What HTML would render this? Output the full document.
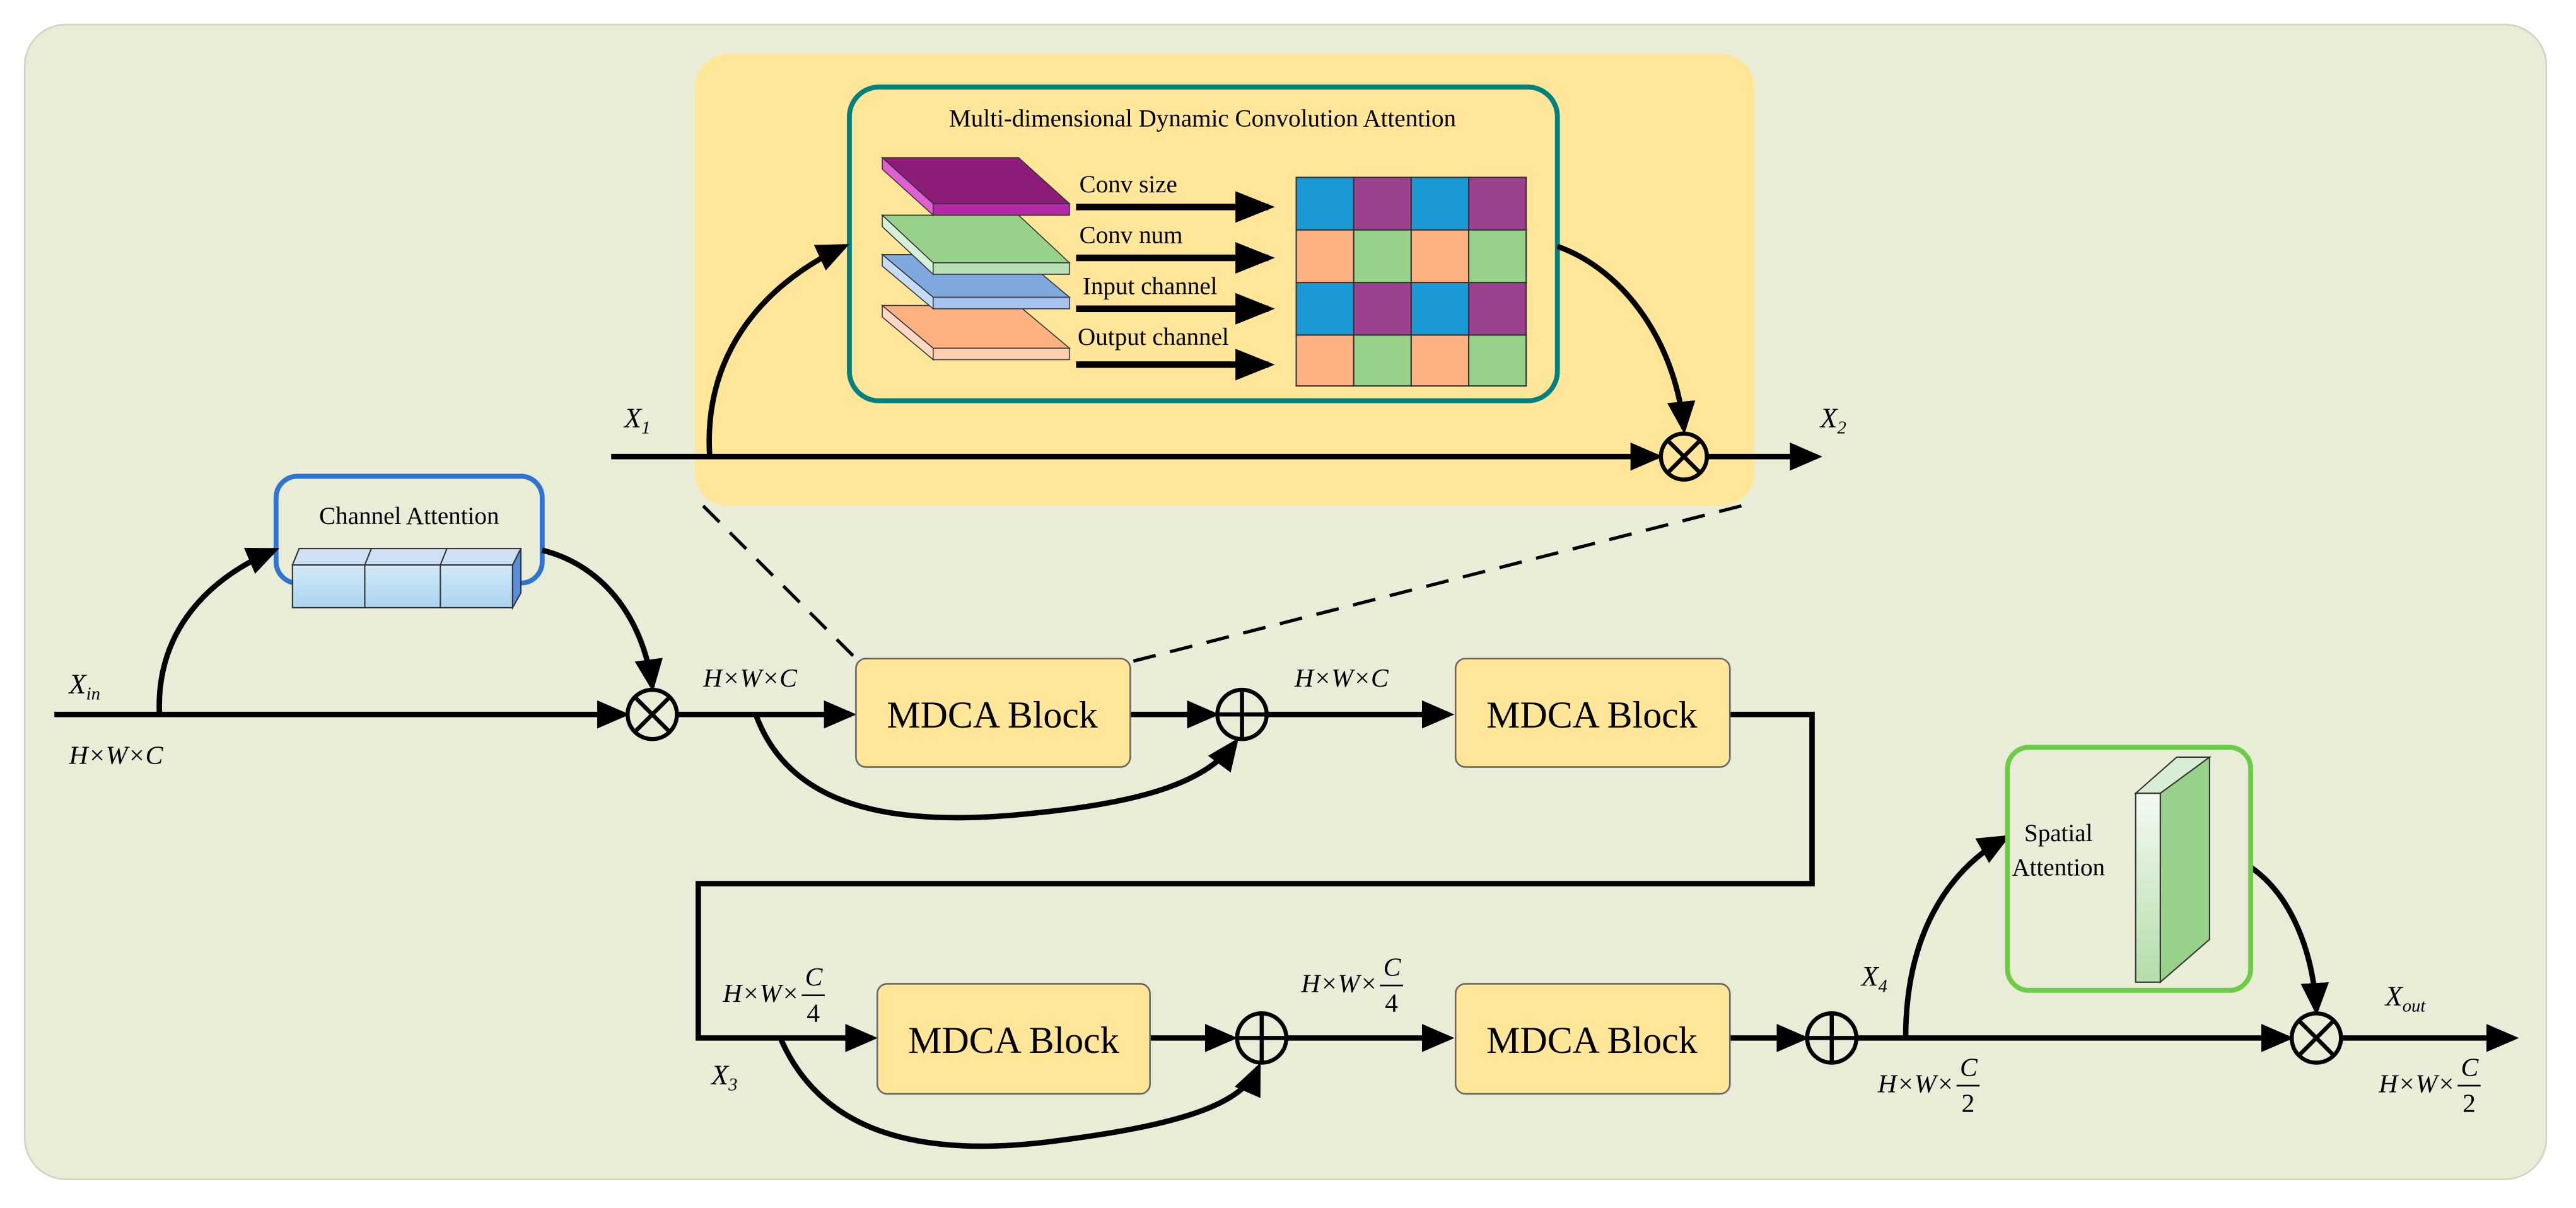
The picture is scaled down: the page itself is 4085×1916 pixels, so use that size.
<!DOCTYPE html>
<html><head><meta charset="utf-8"><style>
html,body{margin:0;padding:0;background:#fff;}
svg{display:block;font-family:"Liberation Serif","DejaVu Serif",serif;}
svg text{font-family:"Liberation Serif","DejaVu Serif",serif !important;fill:#000;}
.it{font-style:italic;}
</style></head><body>
<svg width="4085" height="1916" viewBox="0 0 1568 735.5" xmlns="http://www.w3.org/2000/svg" font-family="Liberation Serif, DejaVu Serif, serif">
<defs>
<marker id="a" markerWidth="6" markerHeight="6" refX="5" refY="3" orient="auto" markerUnits="strokeWidth">
<path d="M0,0.4 L6,3 L0,5.6 Z" fill="#000"/></marker>
<marker id="b" markerWidth="6" markerHeight="6" refX="5" refY="3" orient="auto" markerUnits="strokeWidth">
<path d="M0,0.6 L6,3 L0,5.4 Z" fill="#000"/></marker>
<linearGradient id="cg" x1="0" y1="0" x2="0" y2="1"><stop offset="0" stop-color="#d4e8f8"/><stop offset="1" stop-color="#a8d4ef"/></linearGradient>
<linearGradient id="sg" x1="0" y1="0" x2="0" y2="1"><stop offset="0" stop-color="#f4faf2"/><stop offset="1" stop-color="#b4dcaa"/></linearGradient>
</defs>
<rect x="15" y="15" width="1535" height="703" rx="25" fill="#e9edd8" stroke="#d0d4c4" stroke-width="1"/>
<rect x="423" y="33" width="645" height="275" rx="20" fill="#ffe699"/>
<rect x="517" y="53" width="431" height="191" rx="18" fill="#ffe699" stroke="#00807f" stroke-width="3"/>
<text x="732" y="77" font-size="15" text-anchor="middle">Multi-dimensional Dynamic Convolution Attention</text>
<g stroke="#333" stroke-width="0.6">
<polygon points="537,186 620,186 651,212 568,212" fill="#ffb27f"/>
<polygon points="537,186 568,212 568,219 537,193" fill="#ffd8c4"/>
<rect x="568" y="212" width="83" height="7" fill="#ffcfb0"/>
<polygon points="537,155 620,155 651,181 568,181" fill="#7fa8de"/>
<polygon points="537,155 568,181 568,188 537,162" fill="#c4dcf6"/>
<rect x="568" y="181" width="83" height="7" fill="#a8c4ee"/>
<polygon points="537,131 620,131 651,160 568,160" fill="#98d18a"/>
<polygon points="537,131 568,160 568,167 537,138" fill="#d4f0d8"/>
<rect x="568" y="160" width="83" height="7" fill="#b8e0b4"/>
<polygon points="537,96 620,96 651,124 568,124" fill="#8b1c78"/>
<polygon points="537,96 568,124 568,131 537,103" fill="#e060d4"/>
<rect x="568" y="124" width="83" height="7" fill="#b42aa6"/>
</g>
<text x="657" y="117" font-size="15">Conv size</text>
<text x="657" y="148" font-size="15">Conv num</text>
<text x="659" y="179" font-size="15">Input channel</text>
<text x="656" y="210" font-size="15">Output channel</text>
<g stroke="#000" stroke-width="4" marker-end="url(#b)" fill="none">
<line x1="655" y1="126" x2="772" y2="126"/>
<line x1="655" y1="157" x2="772" y2="157"/>
<line x1="655" y1="188" x2="772" y2="188"/>
<line x1="655" y1="222" x2="772" y2="222"/>
</g>
<g stroke="#333" stroke-width="0.8">
<rect x="789" y="108" width="35" height="32" fill="#1a9ad6"/><rect x="824" y="108" width="35" height="32" fill="#9b418f"/><rect x="859" y="108" width="35" height="32" fill="#1a9ad6"/><rect x="894" y="108" width="35" height="32" fill="#9b418f"/>
<rect x="789" y="140" width="35" height="32" fill="#ffb27f"/><rect x="824" y="140" width="35" height="32" fill="#98d18a"/><rect x="859" y="140" width="35" height="32" fill="#ffb27f"/><rect x="894" y="140" width="35" height="32" fill="#98d18a"/>
<rect x="789" y="172" width="35" height="32" fill="#1a9ad6"/><rect x="824" y="172" width="35" height="32" fill="#9b418f"/><rect x="859" y="172" width="35" height="32" fill="#1a9ad6"/><rect x="894" y="172" width="35" height="32" fill="#9b418f"/>
<rect x="789" y="204" width="35" height="31" fill="#ffb27f"/><rect x="824" y="204" width="35" height="31" fill="#98d18a"/><rect x="859" y="204" width="35" height="31" fill="#ffb27f"/><rect x="894" y="204" width="35" height="31" fill="#98d18a"/>
</g>
<g stroke="#000" fill="none" stroke-width="3.3">
<line x1="372" y1="278" x2="1009" y2="278" marker-end="url(#a)"/>
<line x1="1040" y1="278" x2="1106" y2="278" marker-end="url(#a)"/>
<path d="M432,278 C428,220 460,175 514,150" marker-end="url(#a)"/>
<path d="M948,150 C990,165 1020,210 1025,261" marker-end="url(#a)"/>
</g>
<circle cx="1025" cy="278" r="14" fill="#ffe699" stroke="#000" stroke-width="2.5"/>
<path d="M1016,269 L1034,287 M1034,269 L1016,287" stroke="#000" stroke-width="2.5"/>
<text x="380" y="260" font-size="17" class="it">X<tspan font-size="11" dy="4">1</tspan></text>
<text x="1108" y="260" font-size="17" class="it">X<tspan font-size="11" dy="4">2</tspan></text>
<g stroke="#000" stroke-width="2" stroke-dasharray="14,9" fill="none">
<line x1="428" y1="308" x2="520" y2="400"/>
<line x1="1060" y1="308" x2="688" y2="403"/>
</g>
<rect x="168" y="290" width="162" height="65" rx="13" fill="#e9edd8" stroke="#2f75d0" stroke-width="3"/>
<text x="249" y="319" font-size="15" text-anchor="middle">Channel Attention</text>
<g stroke="#333" stroke-width="0.8">
<polygon points="182,334 317,334 312,344 178,344" fill="#cfdff4"/>
<rect x="178" y="344" width="134" height="26" fill="url(#cg)"/>
<polygon points="312,344 317,334 317,361 312,370" fill="#5a8ed8"/>
<line x1="222" y1="344" x2="222" y2="370"/><line x1="268" y1="344" x2="268" y2="370"/>
<line x1="222" y1="344" x2="226" y2="334"/><line x1="268" y1="344" x2="272" y2="334"/>
</g>
<g stroke="#000" fill="none" stroke-width="3.3">
<line x1="33" y1="435" x2="380" y2="435" marker-end="url(#a)"/>
<path d="M97,435 C95,390 120,355 167,335" marker-end="url(#a)"/>
<path d="M330,335 C370,345 392,380 397,418" marker-end="url(#a)"/>
<line x1="412" y1="435" x2="518" y2="435" marker-end="url(#a)"/>
<line x1="688" y1="435" x2="739" y2="435" marker-end="url(#a)"/>
<path d="M460,435 C480,490 540,505 630,495 C700,488 735,475 752,452" marker-end="url(#a)"/>
<line x1="771" y1="435" x2="882" y2="435" marker-end="url(#a)"/>
<polyline points="1053,435 1103,435 1103,538 425,538 425,632 531,632" marker-end="url(#a)"/>
</g>
<circle cx="397" cy="435" r="15" fill="#e9edd8" stroke="#000" stroke-width="2.5"/>
<path d="M387,425 L407,445 M407,425 L387,445" stroke="#000" stroke-width="2.5"/>
<circle cx="756" cy="435" r="15" fill="#e9edd8" stroke="#000" stroke-width="2.5"/>
<path d="M741,435 H771 M756,420 V450" stroke="#000" stroke-width="2.5"/>
<rect x="521" y="401" width="167" height="66" rx="6" fill="#ffe699" stroke="#666" stroke-width="1"/>
<text x="604" y="443" font-size="23" text-anchor="middle">MDCA Block</text>
<rect x="886" y="401" width="167" height="66" rx="6" fill="#ffe699" stroke="#666" stroke-width="1"/>
<text x="969" y="443" font-size="23" text-anchor="middle">MDCA Block</text>
<text x="42" y="422" font-size="17" class="it">X<tspan font-size="11" dy="4">in</tspan></text>
<text x="42" y="465" font-size="16" class="it">H×W×C</text>
<text x="428" y="418" font-size="16" class="it">H×W×C</text>
<text x="788" y="418" font-size="16" class="it">H×W×C</text>
<g stroke="#000" fill="none" stroke-width="3.3">
<line x1="700" y1="632" x2="750" y2="632" marker-end="url(#a)"/>
<path d="M475,632 C500,690 560,705 640,695 C710,686 755,675 766,650" marker-end="url(#a)"/>
<line x1="783" y1="632" x2="882" y2="632" marker-end="url(#a)"/>
<line x1="1053" y1="632" x2="1098" y2="632" marker-end="url(#a)"/>
<line x1="1130" y1="632" x2="1393" y2="632" marker-end="url(#a)"/>
<line x1="1425" y1="632" x2="1530" y2="632" marker-end="url(#a)"/>
<path d="M1160,632 C1160,570 1185,530 1221,510" marker-end="url(#a)"/>
<path d="M1370,528 C1395,545 1408,580 1410,615" marker-end="url(#a)"/>
</g>
<rect x="534" y="599" width="166" height="67" rx="6" fill="#ffe699" stroke="#666" stroke-width="1"/>
<text x="617" y="641" font-size="23" text-anchor="middle">MDCA Block</text>
<rect x="886" y="599" width="167" height="67" rx="6" fill="#ffe699" stroke="#666" stroke-width="1"/>
<text x="969" y="641" font-size="23" text-anchor="middle">MDCA Block</text>
<circle cx="768" cy="632" r="15" fill="#e9edd8" stroke="#000" stroke-width="2.5"/>
<path d="M753,632 H783 M768,617 V647" stroke="#000" stroke-width="2.5"/>
<circle cx="1115" cy="632" r="15" fill="#e9edd8" stroke="#000" stroke-width="2.5"/>
<path d="M1100,632 H1130 M1115,617 V647" stroke="#000" stroke-width="2.5"/>
<circle cx="1410" cy="632" r="15" fill="#e9edd8" stroke="#000" stroke-width="2.5"/>
<path d="M1400,622 L1420,642 M1420,622 L1400,642" stroke="#000" stroke-width="2.5"/>
<rect x="1222" y="455" width="148" height="148" rx="13" fill="#e9edd8" stroke="#6ccc45" stroke-width="3"/>
<text x="1253" y="512" font-size="15" text-anchor="middle">Spatial</text>
<text x="1253" y="533" font-size="15" text-anchor="middle">Attention</text>
<g stroke="#333" stroke-width="0.8">
<polygon points="1300,483 1325,461 1345,461 1315,483" fill="#d8eed4"/>
<polygon points="1315,483 1345,461 1345,572 1315,598" fill="#98d18a"/>
<rect x="1300" y="483" width="15" height="115" fill="url(#sg)"/>
</g>
<g font-size="16">
<text x="440" y="610" class="it">H×W×</text>
<text x="490" y="600" class="it">C</text><line x1="488" y1="606" x2="502" y2="606" stroke="#000" stroke-width="1"/><text x="491" y="622">4</text>
<text x="792" y="604" class="it">H×W×</text>
<text x="842" y="594" class="it">C</text><line x1="840" y1="600" x2="854" y2="600" stroke="#000" stroke-width="1"/><text x="843" y="616">4</text>
<text x="1143" y="665" class="it">H×W×</text>
<text x="1193" y="655" class="it">C</text><line x1="1191" y1="661" x2="1205" y2="661" stroke="#000" stroke-width="1"/><text x="1194" y="677">2</text>
<text x="1448" y="665" class="it">H×W×</text>
<text x="1498" y="655" class="it">C</text><line x1="1496" y1="661" x2="1510" y2="661" stroke="#000" stroke-width="1"/><text x="1499" y="677">2</text>
</g>
<text x="433" y="660" font-size="17" class="it">X<tspan font-size="11" dy="4">3</tspan></text>
<text x="1133" y="600" font-size="17" class="it">X<tspan font-size="11" dy="4">4</tspan></text>
<text x="1452" y="612" font-size="17" class="it">X<tspan font-size="11" dy="4">out</tspan></text>
</svg>
</body></html>
